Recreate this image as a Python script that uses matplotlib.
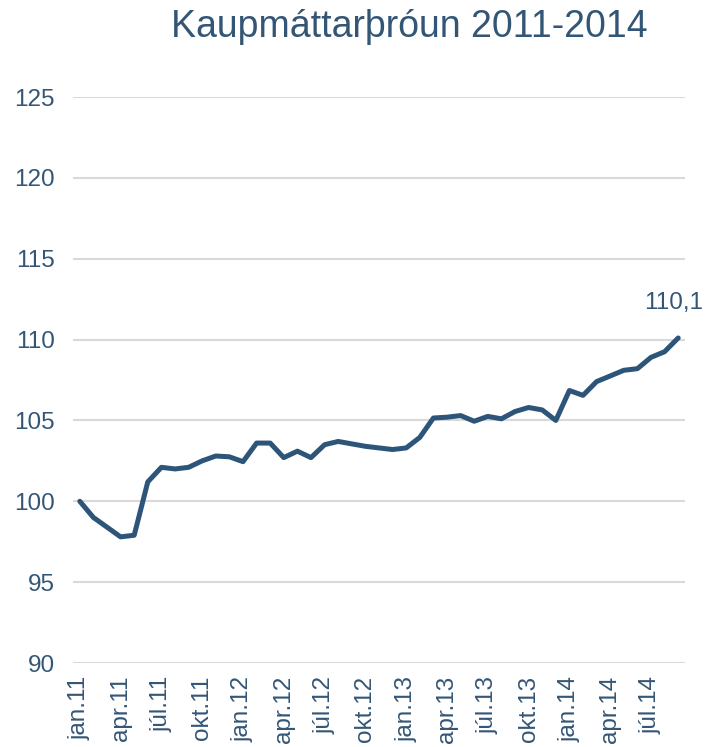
import matplotlib.pyplot as plt
import numpy as np

# Monthly index, jan 2011 = 100
months = ['jan', 'feb', 'mar', 'apr', 'maí', 'jún', 'júl', 'ágú', 'sep', 'okt', 'nóv', 'des']
years = ['11', '12', '13', '14']
values = [
    100.0, 99.0, 98.4, 97.8, 97.9, 101.2, 102.1, 102.0, 102.1, 102.5, 102.8, 102.75,
    102.45, 103.6, 103.6, 102.7, 103.1, 102.7, 103.5, 103.7, 103.55, 103.4, 103.3, 103.2,
    103.3, 103.95, 105.15, 105.2, 105.3, 104.95, 105.25, 105.1, 105.55, 105.8, 105.65, 105.0,
    106.85, 106.55, 107.4, 107.75, 108.1, 108.2, 108.9, 109.25, 110.1,
]
labels = [f'{m}.{y}' for y in years for m in months][:len(values)]
tick_every = 3
last_label = '110,1'

line_color = '#2d5579'
text_color = '#345676'
grid_color = '#d9d9d9'

plt.rcParams['font.family'] = ['Liberation Sans', 'DejaVu Sans']

fig = plt.figure(figsize=(7.08, 7.47), dpi=100)
ax = fig.add_axes([73 / 708, 1 - 663 / 747, (685 - 73) / 708, (663 - 97) / 747])

x = np.arange(len(values))
ax.plot(x, values, color=line_color, linewidth=3.6, solid_capstyle='round',
        solid_joinstyle='round', zorder=3)
ax.annotate(last_label, (x[-1], values[-1]), xytext=(-3, 17), textcoords='offset points',
            ha='center', va='bottom', fontsize=17.5, color=text_color)

ax.set_xlim(-0.5, len(values) - 0.5)
ax.set_ylim(90, 125)
ax.set_yticks(np.arange(90, 126, 5))
ax.set_xticks(x[::tick_every])
ax.set_xticklabels(labels[::tick_every], rotation=90)

ax.grid(axis='y', color=grid_color, linewidth=1.5)
ax.set_axisbelow(True)
for s in ax.spines.values():
    s.set_visible(False)
ax.tick_params(length=0, labelsize=17.5, labelcolor=text_color)
ax.tick_params(axis='y', pad=13)
ax.tick_params(axis='x', pad=9)

fig.text(409 / 708, 1 - 27 / 747, 'Kaupmáttarþróun 2011-2014', ha='center', va='center',
         fontsize=27, color=text_color)

fig.savefig('out.png', dpi=100, facecolor='white')
